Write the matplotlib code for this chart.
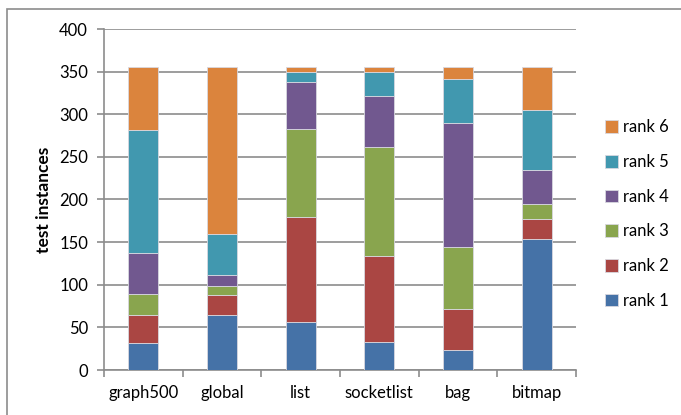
import matplotlib
matplotlib.use("Agg")
import matplotlib.pyplot as plt
import matplotlib.patches as patches
import numpy as np

plt.rcParams['font.family'] = ['Lato', 'DejaVu Sans']

# benchmarks on the x axis
benchmarks = ['graph500', 'global', 'list', 'socketlist', 'bag', 'bitmap']
rank_labels = ['rank 1', 'rank 2', 'rank 3', 'rank 4', 'rank 5', 'rank 6']

# test instances per rank, one list per rank (bottom to top)
rank1 = [32, 64, 56, 33, 24, 154]
rank2 = [33, 24, 123, 101, 47, 23]
rank3 = [24, 11, 104, 127, 73, 18]
rank4 = [48, 12, 55, 60, 146, 40]
rank5 = [144, 48, 11, 28, 51, 70]
rank6 = [75, 197, 7, 7, 15, 51]

ranks = [rank1, rank2, rank3, rank4, rank5, rank6]
colors = ['#4572A7', '#AA4643', '#89A54E', '#71588F', '#4198AF', '#DB843D']

fig = plt.figure(figsize=(6.81, 4.15), dpi=100)
ax = fig.add_axes([104 / 681, 1 - 370 / 415, (576 - 104) / 681, (370 - 29) / 415])

x = np.arange(len(benchmarks))
bottom = np.zeros(len(benchmarks))
handles = []
for vals, col, lab in zip(ranks, colors, rank_labels):
    b = ax.bar(x, vals, width=0.38, bottom=bottom, color=col, label=lab,
               edgecolor='#d8d8e0', linewidth=0.6, zorder=3)
    handles.append(b)
    bottom += np.array(vals)

ax.set_xlim(-0.5, len(benchmarks) - 0.5)
ax.set_ylim(0, 400)
ax.set_yticks(range(0, 401, 50))
ax.yaxis.grid(True, color='#8c8c8c', linewidth=1.2, zorder=0)
ax.set_axisbelow(True)

for side in ['top', 'right']:
    ax.spines[side].set_visible(False)
ax.spines['left'].set_color('#8c8c8c')
ax.spines['bottom'].set_color('#8c8c8c')
ax.spines['left'].set_linewidth(1.2)
ax.spines['bottom'].set_linewidth(1.2)

# category labels centered, tick marks between categories
ax.set_xticks(x)
ax.set_xticklabels(benchmarks, fontsize=12)
ax.tick_params(axis='x', length=0, pad=11)
ax.set_xticks(np.arange(-0.5, len(benchmarks)), minor=True)
ax.tick_params(axis='x', which='minor', length=5, color='#8c8c8c', width=1.2)
ax.tick_params(axis='y', length=5, color='#8c8c8c', width=1.2, labelsize=12, pad=6.5)

ax.set_ylabel('test instances', fontsize=12.5, fontweight='bold', labelpad=5)

leg = fig.legend(handles[::-1], rank_labels[::-1], loc='center left',
                 bbox_to_anchor=(590 / 681, 1 - 214 / 415), frameon=False,
                 fontsize=12, handlelength=0.8, handleheight=0.8,
                 handletextpad=0.3, labelspacing=1.12)

# chart area border
fig.patches.append(patches.Rectangle((7 / 681, -0.1), 1.0, 1 - 9 / 415 + 0.1,
                                     transform=fig.transFigure, fill=False,
                                     edgecolor='#8c8c8c', linewidth=1.2))

fig.savefig('out.png', dpi=100)
